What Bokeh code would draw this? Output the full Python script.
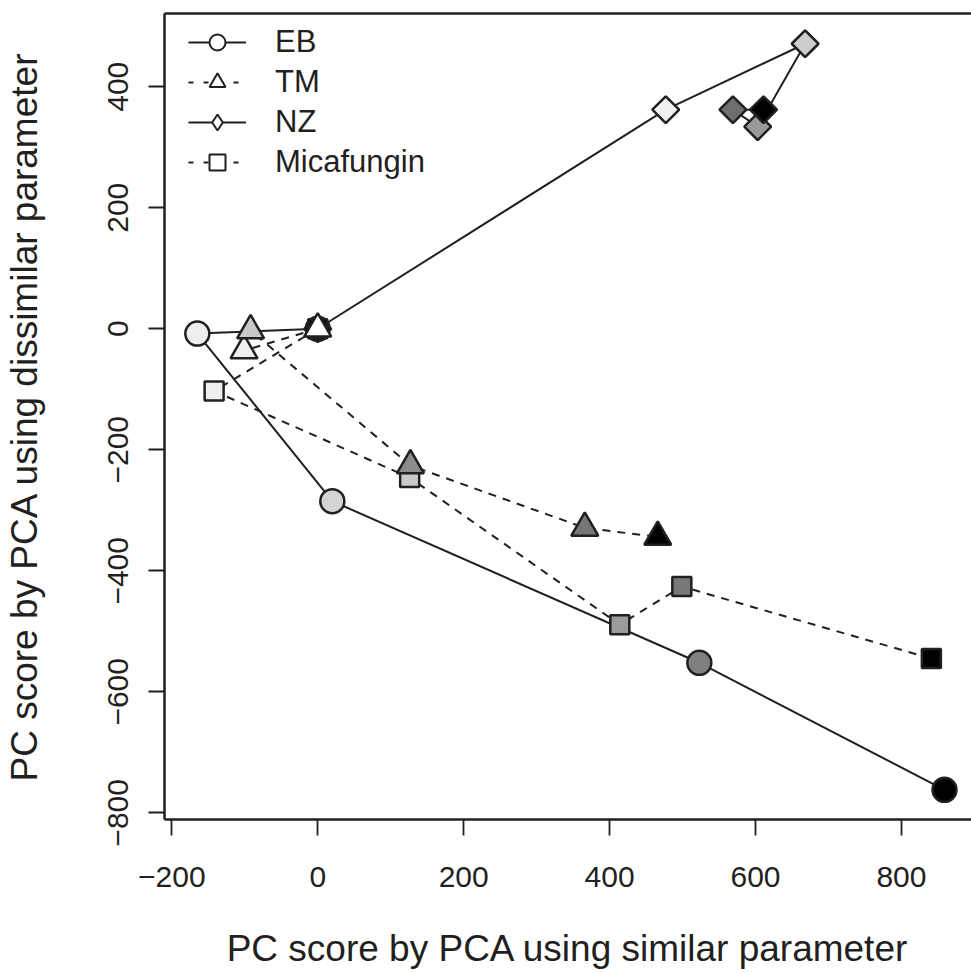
from bokeh.plotting import figure
from bokeh.models import Range1d, FixedTicker, LinearAxis, Legend, LegendItem, ColumnDataSource
from bokeh.embed import file_html
from bokeh.resources import INLINE
import numpy as np

# ---- data ----
eb_x = [0, -165, 20, 523, 859]
eb_y = [0, -8, -285, -552, -762]
eb_fill = ["#000000", "#eeeeee", "#d4d4d4", "#808080", "#000000"]

tm_x = [0, -101, -92, 127, 366, 466]
tm_y = [0, -36, -3, -226, -329, -344]
tm_fill = ["#ffffff", "#eeeeee", "#c8c8c8", "#8c8c8c", "#777777", "#000000"]

nz_x = [0, 477, 668, 603, 569, 611]
nz_y = [0, 362, 471, 334, 362, 362]
nz_fill = ["#000000", "#f0f0f0", "#cccccc", "#999999", "#6e6e6e", "#000000"]

mica_x = [0, -142, 126, 414, 499, 841]
mica_y = [0, -103, -246, -489, -426, -545]
mica_fill = ["#000000", "#eeeeee", "#c9c9c9", "#9c9c9c", "#787878", "#000000"]

series_names = ["EB", "TM", "NZ", "Micafungin"]

x_ticks = [-200, 0, 200, 400, 600, 800]
x_tick_labels = ["\u2212200", "0", "200", "400", "600", "800"]
y_ticks = [-800, -600, -400, -200, 0, 200, 400]
y_tick_labels = ["\u2212800", "\u2212600", "\u2212400", "\u2212200", "0", "200", "400"]

x_title = "PC score by PCA using similar parameter"
y_title = "PC score by PCA using dissimilar parameter"

INK = "#231f20"
FONT = "Liberation Sans"

p = figure(width=971, height=973,
           x_range=Range1d(-210, 896), y_range=Range1d(-811, 521),
           output_backend="svg", toolbar_location=None,
           min_border_left=164, min_border_right=0,
           min_border_top=13, min_border_bottom=154,
           outline_line_color=None, background_fill_color="white",
           border_fill_color="white")
p.grid.visible = False

# axes
xa = p.xaxis[0]
xa.ticker = FixedTicker(ticks=x_ticks)
xa.major_label_overrides = {t: l for t, l in zip(x_ticks, x_tick_labels)}
ya = p.yaxis[0]
ya.ticker = FixedTicker(ticks=y_ticks)
ya.major_label_overrides = {t: l for t, l in zip(y_ticks, y_tick_labels)}
ya.major_label_orientation = "vertical"

for ax in (xa, ya):
    ax.axis_line_color = INK
    ax.axis_line_width = 2.5
    ax.major_tick_line_color = INK
    ax.major_tick_line_width = 1.8
    ax.major_tick_out = 16
    ax.major_tick_in = 0
    ax.minor_tick_line_color = None
    ax.major_label_text_font = FONT
    ax.major_label_text_font_size = "30px"
    ax.major_label_text_color = INK
    ax.axis_label_text_font = FONT
    ax.axis_label_text_font_size = "37px"
    ax.axis_label_text_font_style = "normal"
    ax.axis_label_text_color = INK

xa.axis_label = x_title
ya.axis_label = y_title
xa.major_label_standoff = 31
xa.axis_label_standoff = 38
ya.major_label_standoff = 20
ya.axis_label_standoff = 61

top = LinearAxis(ticker=FixedTicker(ticks=[]), axis_line_color=INK, axis_line_width=2.5,
                 major_tick_line_color=None, minor_tick_line_color=None,
                 major_label_text_font_size="0px")
p.add_layout(top, "above")

# sources
src = {
    "EB": ColumnDataSource(dict(x=eb_x, y=eb_y, fill=eb_fill)),
    "TM": ColumnDataSource(dict(x=tm_x, y=tm_y, fill=tm_fill)),
    "NZ": ColumnDataSource(dict(x=nz_x, y=nz_y, fill=nz_fill)),
    "Micafungin": ColumnDataSource(dict(x=mica_x, y=mica_y, fill=mica_fill)),
}
dash = {"EB": "solid", "TM": "8 7", "NZ": "solid", "Micafungin": "8 7"}
marker = {"EB": "circle", "TM": "triangle", "NZ": "square", "Micafungin": "square"}
size = {"EB": 24, "TM": 27, "NZ": 19, "Micafungin": 19}
angle = {"EB": 0, "TM": 0, "NZ": np.pi / 4, "Micafungin": 0}

# lines first
for name in ["NZ", "Micafungin", "TM", "EB"]:
    p.line("x", "y", source=src[name], line_color=INK, line_width=2, line_dash=dash[name])
# markers
for name in ["EB", "NZ", "Micafungin", "TM"]:
    p.scatter("x", "y", source=src[name], marker=marker[name], size=size[name],
              angle=angle[name], fill_color="fill", line_color=INK, line_width=2.5)

# legend-only renderers (NaN data: nothing drawn in the plot area)
leg_marker = {"EB": "circle", "TM": "triangle", "NZ": "diamond", "Micafungin": "square"}
leg_dash = {"EB": "solid", "TM": "5 10", "NZ": "solid", "Micafungin": "5 10"}
items = []
for name in series_names:
    lsrc = ColumnDataSource(dict(x=[np.nan], y=[np.nan]))
    lr = p.line("x", "y", source=lsrc, line_color=INK, line_width=1.8, line_dash=leg_dash[name])
    sr = p.scatter("x", "y", source=lsrc, marker=leg_marker[name], fill_color="white",
                   line_color=INK, line_width=2)
    items.append(LegendItem(label=name, renderers=[lr, sr]))

legend = Legend(items=items, location=(24, 637), margin=0, padding=0, spacing=0,
                glyph_height=40, glyph_width=58, label_standoff=29,
                label_text_font=FONT, label_text_font_size="31px", label_text_color=INK,
                border_line_color=None, background_fill_alpha=0)
p.add_layout(legend)

open("out.html", "w").write(file_html(p, INLINE))
